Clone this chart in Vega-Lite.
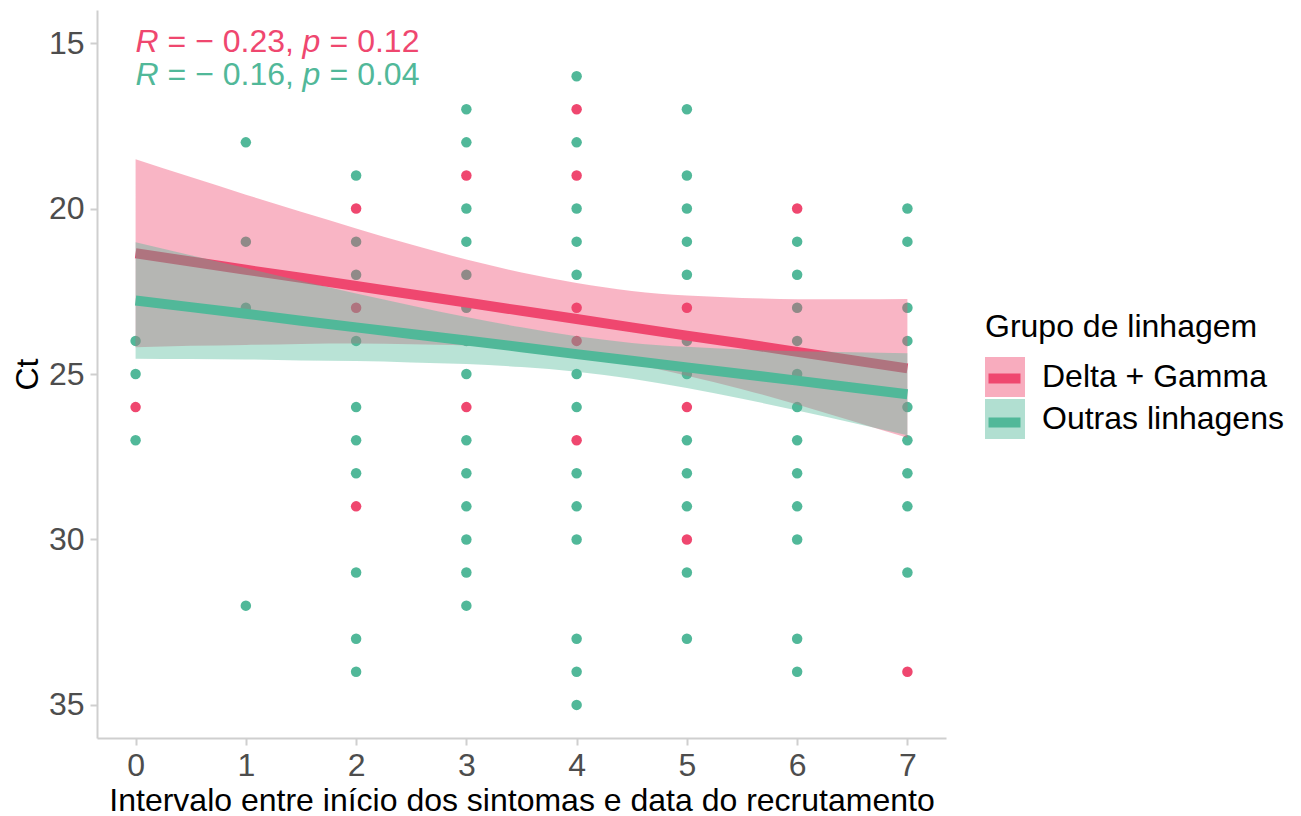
{
  "$schema": "https://vega.github.io/schema/vega-lite/v6.json",
  "width": 849,
  "height": 728,
  "autosize": {"type": "none"},
  "padding": {"left": 97, "top": 10, "right": 355, "bottom": 78},
  "background": "white",
  "config": {
    "view": {"stroke": null},
    "font": "Liberation Sans",
    "legend": {"padding": 0},
    "axis": {
      "labelFont": "Liberation Sans",
      "labelFontSize": 32,
      "labelColor": "#4d4d4d",
      "titleFont": "Liberation Sans",
      "titleFontSize": 32,
      "titleFontWeight": "normal",
      "titleColor": "#000000",
      "domainColor": "#cfcfcf",
      "domainWidth": 2,
      "tickColor": "#cfcfcf",
      "tickWidth": 2,
      "tickSize": 7,
      "grid": false,
      "labelPadding": 5
    }
  },
  "datasets": {
    "pontos": [
      {"dias": 0, "ct": 24, "grupo": "Outras linhagens"},
      {"dias": 0, "ct": 25, "grupo": "Outras linhagens"},
      {"dias": 0, "ct": 26, "grupo": "Delta + Gamma"},
      {"dias": 0, "ct": 27, "grupo": "Outras linhagens"},
      {"dias": 1, "ct": 18, "grupo": "Outras linhagens"},
      {"dias": 1, "ct": 21, "grupo": "Outras linhagens"},
      {"dias": 1, "ct": 23, "grupo": "Outras linhagens"},
      {"dias": 1, "ct": 32, "grupo": "Outras linhagens"},
      {"dias": 2, "ct": 19, "grupo": "Outras linhagens"},
      {"dias": 2, "ct": 20, "grupo": "Delta + Gamma"},
      {"dias": 2, "ct": 21, "grupo": "Outras linhagens"},
      {"dias": 2, "ct": 22, "grupo": "Outras linhagens"},
      {"dias": 2, "ct": 23, "grupo": "Delta + Gamma"},
      {"dias": 2, "ct": 24, "grupo": "Outras linhagens"},
      {"dias": 2, "ct": 26, "grupo": "Outras linhagens"},
      {"dias": 2, "ct": 27, "grupo": "Outras linhagens"},
      {"dias": 2, "ct": 28, "grupo": "Outras linhagens"},
      {"dias": 2, "ct": 29, "grupo": "Delta + Gamma"},
      {"dias": 2, "ct": 31, "grupo": "Outras linhagens"},
      {"dias": 2, "ct": 33, "grupo": "Outras linhagens"},
      {"dias": 2, "ct": 34, "grupo": "Outras linhagens"},
      {"dias": 3, "ct": 17, "grupo": "Outras linhagens"},
      {"dias": 3, "ct": 18, "grupo": "Outras linhagens"},
      {"dias": 3, "ct": 19, "grupo": "Delta + Gamma"},
      {"dias": 3, "ct": 20, "grupo": "Outras linhagens"},
      {"dias": 3, "ct": 21, "grupo": "Outras linhagens"},
      {"dias": 3, "ct": 22, "grupo": "Outras linhagens"},
      {"dias": 3, "ct": 23, "grupo": "Outras linhagens"},
      {"dias": 3, "ct": 24, "grupo": "Outras linhagens"},
      {"dias": 3, "ct": 25, "grupo": "Outras linhagens"},
      {"dias": 3, "ct": 26, "grupo": "Delta + Gamma"},
      {"dias": 3, "ct": 27, "grupo": "Outras linhagens"},
      {"dias": 3, "ct": 28, "grupo": "Outras linhagens"},
      {"dias": 3, "ct": 29, "grupo": "Outras linhagens"},
      {"dias": 3, "ct": 30, "grupo": "Outras linhagens"},
      {"dias": 3, "ct": 31, "grupo": "Outras linhagens"},
      {"dias": 3, "ct": 32, "grupo": "Outras linhagens"},
      {"dias": 4, "ct": 16, "grupo": "Outras linhagens"},
      {"dias": 4, "ct": 17, "grupo": "Delta + Gamma"},
      {"dias": 4, "ct": 18, "grupo": "Outras linhagens"},
      {"dias": 4, "ct": 19, "grupo": "Delta + Gamma"},
      {"dias": 4, "ct": 20, "grupo": "Outras linhagens"},
      {"dias": 4, "ct": 21, "grupo": "Outras linhagens"},
      {"dias": 4, "ct": 22, "grupo": "Outras linhagens"},
      {"dias": 4, "ct": 23, "grupo": "Delta + Gamma"},
      {"dias": 4, "ct": 24, "grupo": "Delta + Gamma"},
      {"dias": 4, "ct": 25, "grupo": "Outras linhagens"},
      {"dias": 4, "ct": 26, "grupo": "Outras linhagens"},
      {"dias": 4, "ct": 27, "grupo": "Delta + Gamma"},
      {"dias": 4, "ct": 28, "grupo": "Outras linhagens"},
      {"dias": 4, "ct": 29, "grupo": "Outras linhagens"},
      {"dias": 4, "ct": 30, "grupo": "Outras linhagens"},
      {"dias": 4, "ct": 33, "grupo": "Outras linhagens"},
      {"dias": 4, "ct": 34, "grupo": "Outras linhagens"},
      {"dias": 4, "ct": 35, "grupo": "Outras linhagens"},
      {"dias": 5, "ct": 17, "grupo": "Outras linhagens"},
      {"dias": 5, "ct": 19, "grupo": "Outras linhagens"},
      {"dias": 5, "ct": 20, "grupo": "Outras linhagens"},
      {"dias": 5, "ct": 21, "grupo": "Outras linhagens"},
      {"dias": 5, "ct": 22, "grupo": "Outras linhagens"},
      {"dias": 5, "ct": 23, "grupo": "Delta + Gamma"},
      {"dias": 5, "ct": 24, "grupo": "Outras linhagens"},
      {"dias": 5, "ct": 25, "grupo": "Outras linhagens"},
      {"dias": 5, "ct": 26, "grupo": "Delta + Gamma"},
      {"dias": 5, "ct": 27, "grupo": "Outras linhagens"},
      {"dias": 5, "ct": 28, "grupo": "Outras linhagens"},
      {"dias": 5, "ct": 29, "grupo": "Outras linhagens"},
      {"dias": 5, "ct": 30, "grupo": "Delta + Gamma"},
      {"dias": 5, "ct": 31, "grupo": "Outras linhagens"},
      {"dias": 5, "ct": 33, "grupo": "Outras linhagens"},
      {"dias": 6, "ct": 20, "grupo": "Delta + Gamma"},
      {"dias": 6, "ct": 21, "grupo": "Outras linhagens"},
      {"dias": 6, "ct": 22, "grupo": "Outras linhagens"},
      {"dias": 6, "ct": 23, "grupo": "Outras linhagens"},
      {"dias": 6, "ct": 24, "grupo": "Outras linhagens"},
      {"dias": 6, "ct": 25, "grupo": "Outras linhagens"},
      {"dias": 6, "ct": 26, "grupo": "Outras linhagens"},
      {"dias": 6, "ct": 27, "grupo": "Outras linhagens"},
      {"dias": 6, "ct": 28, "grupo": "Outras linhagens"},
      {"dias": 6, "ct": 29, "grupo": "Outras linhagens"},
      {"dias": 6, "ct": 30, "grupo": "Outras linhagens"},
      {"dias": 6, "ct": 33, "grupo": "Outras linhagens"},
      {"dias": 6, "ct": 34, "grupo": "Outras linhagens"},
      {"dias": 7, "ct": 20, "grupo": "Outras linhagens"},
      {"dias": 7, "ct": 21, "grupo": "Outras linhagens"},
      {"dias": 7, "ct": 23, "grupo": "Outras linhagens"},
      {"dias": 7, "ct": 24, "grupo": "Outras linhagens"},
      {"dias": 7, "ct": 26, "grupo": "Outras linhagens"},
      {"dias": 7, "ct": 27, "grupo": "Outras linhagens"},
      {"dias": 7, "ct": 28, "grupo": "Outras linhagens"},
      {"dias": 7, "ct": 29, "grupo": "Outras linhagens"},
      {"dias": 7, "ct": 31, "grupo": "Outras linhagens"},
      {"dias": 7, "ct": 34, "grupo": "Delta + Gamma"}
    ],
    "ajuste": [
      {"dias": 0, "grupo": "Delta + Gamma", "lo": 18.51, "hi": 24.19, "fit": 21.35},
      {"dias": 0.5, "grupo": "Delta + Gamma", "lo": 19.05, "hi": 24.15, "fit": 21.6},
      {"dias": 1, "grupo": "Delta + Gamma", "lo": 19.58, "hi": 24.12, "fit": 21.85},
      {"dias": 1.5, "grupo": "Delta + Gamma", "lo": 20.1, "hi": 24.09, "fit": 22.09},
      {"dias": 2, "grupo": "Delta + Gamma", "lo": 20.6, "hi": 24.08, "fit": 22.34},
      {"dias": 2.5, "grupo": "Delta + Gamma", "lo": 21.09, "hi": 24.1, "fit": 22.59},
      {"dias": 3, "grupo": "Delta + Gamma", "lo": 21.54, "hi": 24.14, "fit": 22.84},
      {"dias": 3.5, "grupo": "Delta + Gamma", "lo": 21.93, "hi": 24.25, "fit": 23.09},
      {"dias": 4, "grupo": "Delta + Gamma", "lo": 22.25, "hi": 24.43, "fit": 23.34},
      {"dias": 4.5, "grupo": "Delta + Gamma", "lo": 22.49, "hi": 24.69, "fit": 23.59},
      {"dias": 5, "grupo": "Delta + Gamma", "lo": 22.63, "hi": 25.05, "fit": 23.84},
      {"dias": 5.5, "grupo": "Delta + Gamma", "lo": 22.7, "hi": 25.46, "fit": 24.08},
      {"dias": 6, "grupo": "Delta + Gamma", "lo": 22.74, "hi": 25.92, "fit": 24.33},
      {"dias": 6.5, "grupo": "Delta + Gamma", "lo": 22.74, "hi": 26.42, "fit": 24.58},
      {"dias": 7, "grupo": "Delta + Gamma", "lo": 22.73, "hi": 26.93, "fit": 24.83},
      {"dias": 0, "grupo": "Outras linhagens", "lo": 21.02, "hi": 24.54, "fit": 22.78},
      {"dias": 0.5, "grupo": "Outras linhagens", "lo": 21.41, "hi": 24.55, "fit": 22.98},
      {"dias": 1, "grupo": "Outras linhagens", "lo": 21.8, "hi": 24.56, "fit": 23.18},
      {"dias": 1.5, "grupo": "Outras linhagens", "lo": 22.19, "hi": 24.59, "fit": 23.39},
      {"dias": 2, "grupo": "Outras linhagens", "lo": 22.57, "hi": 24.61, "fit": 23.59},
      {"dias": 2.5, "grupo": "Outras linhagens", "lo": 22.93, "hi": 24.65, "fit": 23.79},
      {"dias": 3, "grupo": "Outras linhagens", "lo": 23.28, "hi": 24.7, "fit": 23.99},
      {"dias": 3.5, "grupo": "Outras linhagens", "lo": 23.59, "hi": 24.79, "fit": 24.19},
      {"dias": 4, "grupo": "Outras linhagens", "lo": 23.86, "hi": 24.93, "fit": 24.4},
      {"dias": 4.5, "grupo": "Outras linhagens", "lo": 24.06, "hi": 25.14, "fit": 24.6},
      {"dias": 5, "grupo": "Outras linhagens", "lo": 24.18, "hi": 25.42, "fit": 24.8},
      {"dias": 5.5, "grupo": "Outras linhagens", "lo": 24.26, "hi": 25.75, "fit": 25.0},
      {"dias": 6, "grupo": "Outras linhagens", "lo": 24.31, "hi": 26.1, "fit": 25.2},
      {"dias": 6.5, "grupo": "Outras linhagens", "lo": 24.34, "hi": 26.47, "fit": 25.41},
      {"dias": 7, "grupo": "Outras linhagens", "lo": 24.37, "hi": 26.85, "fit": 25.61}
    ],
    "rotulos": [
      {"dias": 0, "ct": 15.27, "grupo": "Delta + Gamma", "r": "= − 0.23,", "p": "= 0.12"},
      {"dias": 0, "ct": 16.27, "grupo": "Outras linhagens", "r": "= − 0.16,", "p": "= 0.04"}
    ]
  },
  "layer": [
    {
      "data": {"name": "pontos"},
      "mark": {"type": "circle", "size": 110, "opacity": 1},
      "encoding": {
        "x": {
          "field": "dias", "type": "quantitative",
          "scale": {"domain": [-0.35, 7.35], "nice": false, "zero": false},
          "axis": {"values": [0, 1, 2, 3, 4, 5, 6, 7], "format": "d", "titlePadding": 4},
          "title": "Intervalo entre início dos sintomas e data do recrutamento"
        },
        "y": {
          "field": "ct", "type": "quantitative",
          "scale": {"domain": [14, 36], "reverse": true, "nice": false, "zero": false},
          "axis": {"values": [15, 20, 25, 30, 35], "labelPadding": 6, "titlePadding": 4},
          "title": "Ct"
        },
        "color": {
          "field": "grupo", "type": "nominal",
          "scale": {"range": ["#EF476F", "#51B899"]},
          "legend": null
        }
      }
    },
    {
      "data": {"name": "ajuste"},
      "transform": [{"filter": "datum.grupo === 'Delta + Gamma'"}],
      "mark": {"type": "area", "fillOpacity": 0.4, "interpolate": "monotone"},
      "encoding": {
        "x": {"field": "dias", "type": "quantitative", "title": "Intervalo entre início dos sintomas e data do recrutamento"},
        "y": {"field": "lo", "type": "quantitative", "title": "Ct"},
        "y2": {"field": "hi"},
        "fill": {
          "field": "grupo", "type": "nominal",
          "scale": {"domain": ["Delta + Gamma", "Outras linhagens"], "range": ["#EF476F", "#51B899"]},
          "legend": {
            "orient": "none", "legendX": 888, "legendY": 302,
            "title": "Grupo de linhagem",
            "titleFont": "Liberation Sans", "titleFontSize": 32, "titleFontWeight": "normal", "titleColor": "#000000",
            "titlePadding": 13, "titleLimit": 600,
            "labelFont": "Liberation Sans", "labelFontSize": 32, "labelColor": "#000000", "labelOffset": 17, "labelLimit": 600,
            "symbolType": "square", "symbolSize": 1600, "symbolOpacity": 0.45,
            "symbolStrokeWidth": 0,
            "rowPadding": 2
          }
        }
      }
    },
    {
      "data": {"name": "ajuste"},
      "transform": [{"filter": "datum.grupo === 'Delta + Gamma'"}],
      "mark": {"type": "line", "strokeWidth": 10},
      "encoding": {
        "x": {"field": "dias", "type": "quantitative", "title": "Intervalo entre início dos sintomas e data do recrutamento"},
        "y": {"field": "fit", "type": "quantitative", "title": "Ct"},
        "stroke": {
          "field": "grupo", "type": "nominal",
          "scale": {"range": ["#EF476F", "#51B899"]},
          "legend": {
            "orient": "none", "legendX": 885, "legendY": 346,
            "title": null,
            "labelExpr": "''", "labelFontSize": 32, "labelOffset": 0,
            "symbolType": "M-0.914,0L0.914,0", "symbolSize": 1225, "symbolStrokeWidth": 10, "symbolOpacity": 1,
            "rowPadding": 1
          }
        }
      }
    },
    {
      "data": {"name": "ajuste"},
      "transform": [{"filter": "datum.grupo === 'Outras linhagens'"}],
      "mark": {"type": "area", "fillOpacity": 0.4, "interpolate": "monotone"},
      "encoding": {
        "x": {"field": "dias", "type": "quantitative", "title": "Intervalo entre início dos sintomas e data do recrutamento"},
        "y": {"field": "lo", "type": "quantitative", "title": "Ct"},
        "y2": {"field": "hi"},
        "fill": {"field": "grupo", "type": "nominal"}
      }
    },
    {
      "data": {"name": "ajuste"},
      "transform": [{"filter": "datum.grupo === 'Outras linhagens'"}],
      "mark": {"type": "line", "strokeWidth": 10},
      "encoding": {
        "x": {"field": "dias", "type": "quantitative", "title": "Intervalo entre início dos sintomas e data do recrutamento"},
        "y": {"field": "fit", "type": "quantitative", "title": "Ct"},
        "stroke": {"field": "grupo", "type": "nominal"}
      }
    },
    {
      "data": {"name": "rotulos"},
      "mark": {"type": "text", "text": "R", "font": "Liberation Sans", "fontStyle": "italic", "fontSize": 32, "align": "left", "baseline": "alphabetic", "dx": 0},
      "encoding": {
        "x": {"field": "dias", "type": "quantitative"},
        "y": {"field": "ct", "type": "quantitative"},
        "color": {"field": "grupo", "type": "nominal", "legend": null}
      }
    },
    {
      "data": {"name": "rotulos"},
      "mark": {"type": "text", "font": "Liberation Sans", "fontSize": 32, "align": "left", "baseline": "alphabetic", "dx": 32},
      "encoding": {
        "x": {"field": "dias", "type": "quantitative"},
        "y": {"field": "ct", "type": "quantitative"},
        "text": {"field": "r"},
        "color": {"field": "grupo", "type": "nominal", "legend": null}
      }
    },
    {
      "data": {"name": "rotulos"},
      "mark": {"type": "text", "text": "p", "font": "Liberation Sans", "fontStyle": "italic", "fontSize": 32, "align": "left", "baseline": "alphabetic", "dx": 167},
      "encoding": {
        "x": {"field": "dias", "type": "quantitative"},
        "y": {"field": "ct", "type": "quantitative"},
        "color": {"field": "grupo", "type": "nominal", "legend": null}
      }
    },
    {
      "data": {"name": "rotulos"},
      "mark": {"type": "text", "font": "Liberation Sans", "fontSize": 32, "align": "left", "baseline": "alphabetic", "dx": 194},
      "encoding": {
        "x": {"field": "dias", "type": "quantitative"},
        "y": {"field": "ct", "type": "quantitative"},
        "text": {"field": "p"},
        "color": {"field": "grupo", "type": "nominal", "legend": null}
      }
    }
  ]
}
